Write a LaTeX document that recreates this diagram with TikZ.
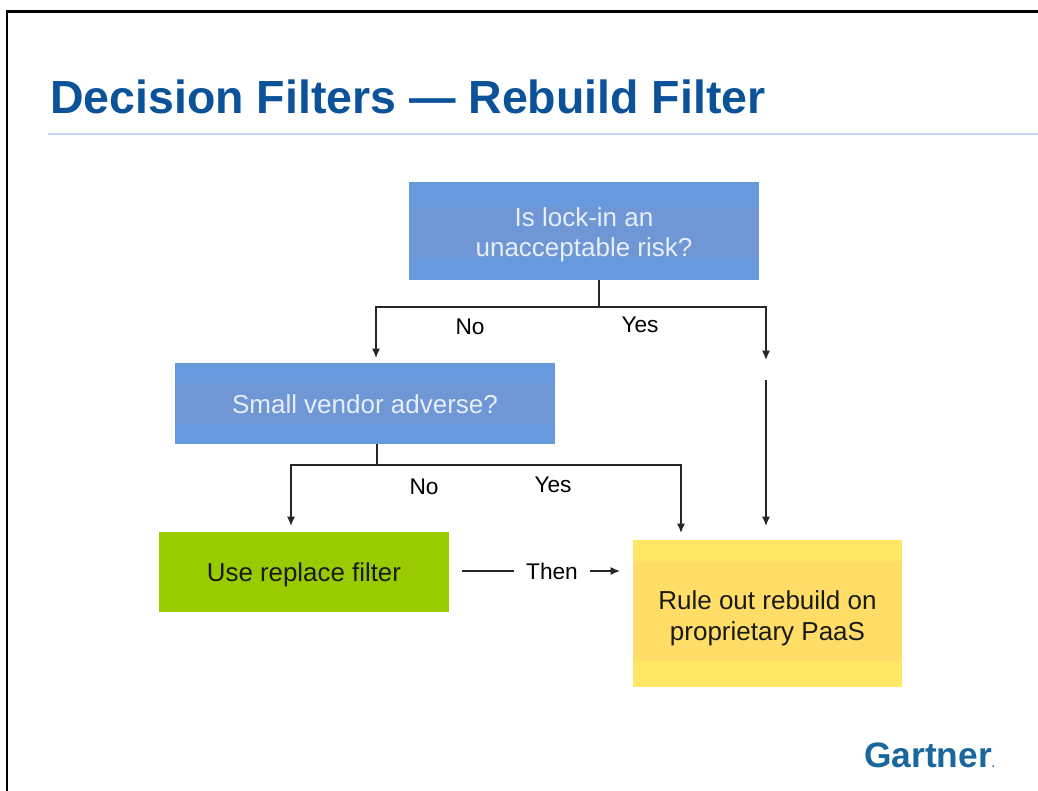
\documentclass[tikz,border=0pt]{standalone}
\usepackage{fontspec}
\setmainfont{Liberation Sans}
\usetikzlibrary{arrows.meta}
\definecolor{titleblue}{HTML}{0B5299}
\definecolor{rulecol}{HTML}{C4D9F0}
\definecolor{boxblue}{HTML}{6699DD}
\definecolor{bandblue}{HTML}{6F97D6}
\definecolor{boxtext}{HTML}{E6EEF9}
\definecolor{boxgreen}{HTML}{99CC00}
\definecolor{boxyellow}{HTML}{FFE766}
\definecolor{bandyellow}{HTML}{FFDD66}
\definecolor{logoblue}{HTML}{1A669F}
\definecolor{inktext}{HTML}{1A1A1A}
% adds #1 of empty height above the text, which moves it down by half of #1 in a centred node
\newcommand{\lowertext}[2]{\raisebox{0pt}[\dimexpr\height+#1\relax][\depth]{\begin{tabular}{@{}c@{}}#2\end{tabular}}}
\tikzset{
  x=0.75pt, y=-0.75pt,
  boxbase/.style={anchor=north west, inner sep=0pt, outer sep=0pt, align=center, font=\fontsize{19.5}{22.5}\selectfont},
  bluebox/.style={boxbase, fill=boxblue, text=boxtext},
  greenbox/.style={boxbase, fill=boxgreen, text=inktext, font=\fontsize{19.4}{22.5}\selectfont},
  yellowbox/.style={boxbase, fill=boxyellow, text=inktext, font=\fontsize{19.5}{23.2}\selectfont},
  band/.style n args={3}{path picture={\fill[#1]
      ([yshift=#2]path picture bounding box.north west) rectangle
      ([yshift=#3]path picture bounding box.south east);}},
  conn/.style={draw=black!85, line width=1pt},
  arrowed/.style={conn, -{Latex[length=7pt,width=6pt]}},
  lbl/.style={font=\fontsize{17}{20}\selectfont, text=black, inner sep=0pt},
}
\begin{document}
\begin{tikzpicture}
\useasboundingbox (0,0) rectangle (1038,791);
\fill[white] (0,0) rectangle (1038,791);
% slide frame
\coordinate (fb) at (7,791);
\coordinate (fc) at (7,11.5);
\coordinate (fr) at (1038,11.5);
\draw[black, line width=1.6pt] (fb) -- (fc) -- (fr);
% title
\node[anchor=base west, inner sep=0pt, text=titleblue, font=\fontsize{34.85}{40}\selectfont\bfseries] (title) at (50,114) {Decision Filters — Rebuild Filter};
\coordinate (ra) at (48,134);
\coordinate (rb) at (1038,134);
\draw[rulecol, line width=1pt] (ra) -- (rb);
% boxes
\node[bluebox, minimum width=262.5pt, minimum height=73.5pt, band={bandblue}{-18.75pt}{16.5pt}] (q1) at (409,182) {\lowertext{7.5pt}{Is lock-in an\\unacceptable risk?}};
\node[bluebox, minimum width=285pt, minimum height=60.75pt, band={bandblue}{-15pt}{15pt}] (q2) at (175,363) {\lowertext{6pt}{Small vendor adverse?}};
\node[greenbox, minimum width=217.5pt, minimum height=60pt] (use) at (159,532) {\lowertext{4.5pt}{Use replace filter}};
\node[yellowbox, minimum width=201.75pt, minimum height=110.25pt, band={bandyellow}{-15.75pt}{19.5pt}] (rule) at (633,540) {\lowertext{7.5pt}{Rule out rebuild on\\proprietary PaaS}};
% connectors
\coordinate (j1) at (599,307);
\coordinate (a1) at (376,358);
\coordinate (a2) at (766,360);
\coordinate (a3) at (766,380);
\coordinate (a4) at (766,526);
\coordinate (j2) at (377,465);
\coordinate (a5) at (291,526);
\coordinate (a6) at (681,533);
\draw[conn] (q1.south -| j1) -- (j1);
\draw[arrowed] (j1) -| (a1);
\draw[arrowed] (j1) -| (a2);
\draw[arrowed] (a3) -- (a4);
\draw[conn] (q2.south -| j2) -- (j2);
\draw[arrowed] (j2) -| (a5);
\draw[arrowed] (j2) -| (a6);
% labels
\node[lbl] (no1) at (470,327) {No};
\node[lbl] (yes1) at (640,325) {Yes};
\node[lbl] (no2) at (424,487) {No};
\node[lbl] (yes2) at (553,485) {Yes};
\node[lbl, inner sep=9pt] (then) at (552,571) {Then};
\coordinate (t1) at (462,571);
\coordinate (t2) at (620,571);
\draw[conn] (t1) -- (then.west);
\draw[arrowed] (then.east) -- (t2);
% logo
\node[anchor=base west, inner sep=0pt, text=logoblue, font=\fontsize{26.5}{30}\selectfont\bfseries] (logo) at (864,767) {Gartner{\fontsize{8}{8}\selectfont.}};
\end{tikzpicture}
\end{document}
